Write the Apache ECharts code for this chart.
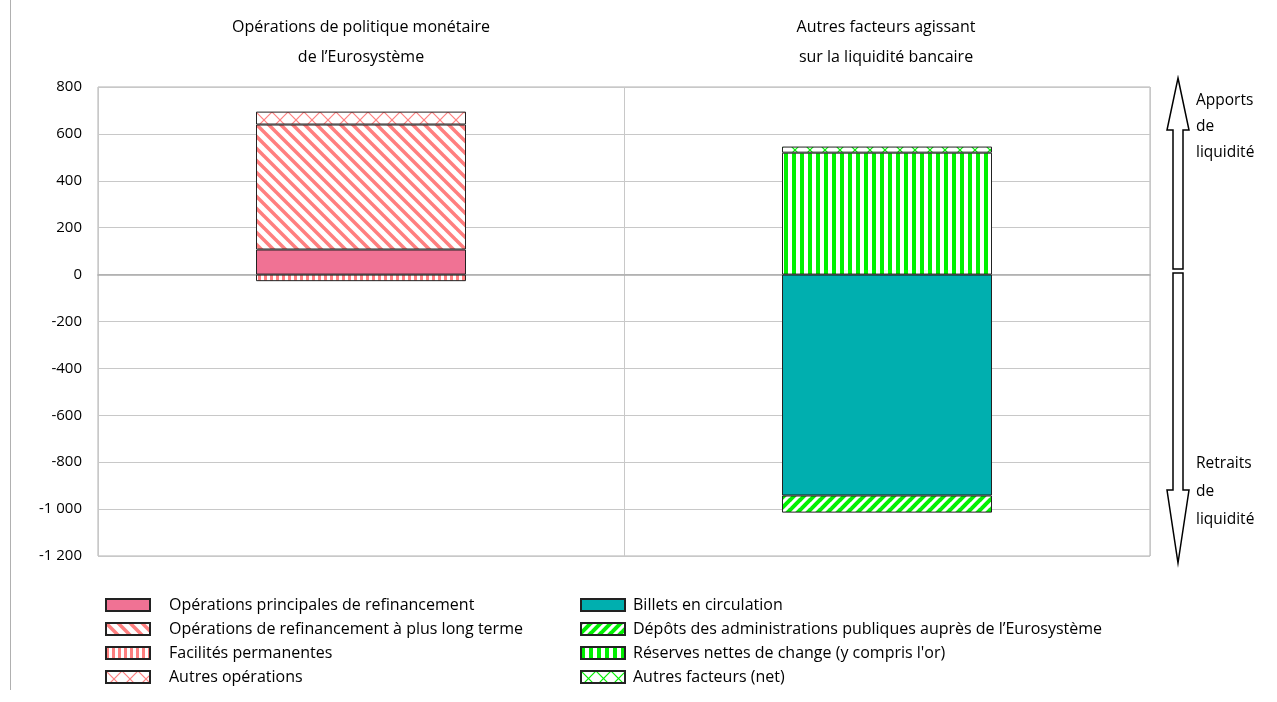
<!DOCTYPE html>
<html>
<head>
<meta charset="utf-8">
<script src="https://cdn.jsdelivr.net/npm/echarts@6/dist/echarts.min.js"></script>
<style>
  html, body { margin: 0; padding: 0; background: #fff; }
  #chart { width: 1277px; height: 702px; }
</style>
</head>
<body>
<div id="chart"></div>
<script>
// groupes (catégories de l'axe x)
const categories = ['Opérations de politique monétaire de l\u2019Eurosystème', 'Autres facteurs agissant sur la liquidité bancaire'];
const yTicks = [-1200, -1000, -800, -600, -400, -200, 0, 200, 400, 600, 800];

// Opérations de politique monétaire (1er groupe)
const opPrincipales = [107, '-'];
const opLongTerme = [533, '-'];
const facilites = [-28, '-'];
const autresOperations = [55, '-'];

// Autres facteurs (2e groupe)
const billets = ['-', -942];
const depots = ['-', -73];
const reserves = ['-', 520];
const autresFacteurs = ['-', 26];

const FONT = '"Open Sans", Lato, sans-serif';
const SALMON = '#ff7f7f';
const GREEN = '#00f000';

// petits motifs (hachures) dessinés sur canvas
function makePattern(kind, color, size, lw) {
  const c = document.createElement('canvas');
  c.width = size; c.height = size;
  const g = c.getContext('2d');
  g.fillStyle = '#fff';
  g.fillRect(0, 0, size, size);
  g.strokeStyle = color;
  g.lineWidth = lw;
  if (kind === 'back') {
    for (let k = -1; k <= 1; k++) {
      g.beginPath(); g.moveTo(-1, k * size - 1); g.lineTo(size + 1, size + k * size + 1); g.stroke();
    }
  } else if (kind === 'fwd') {
    for (let k = 0; k <= 2; k++) {
      g.beginPath(); g.moveTo(-1, k * size + 1); g.lineTo(size + 1, k * size - size - 1); g.stroke();
    }
  } else if (kind === 'vert') {
    g.fillStyle = color;
    g.fillRect(0, 0, lw, size);
  } else if (kind === 'cross') {
    for (let k = -1; k <= 1; k++) {
      g.beginPath(); g.moveTo(-1, k * size - 1); g.lineTo(size + 1, size + k * size + 1); g.stroke();
    }
    for (let k = 0; k <= 2; k++) {
      g.beginPath(); g.moveTo(-1, k * size + 1); g.lineTo(size + 1, k * size - size - 1); g.stroke();
    }
  }
  return { image: c, repeat: 'repeat' };
}

const chart = echarts.init(document.getElementById('chart'));

function barSeries(name, data, color) {
  return {
    name: name,
    type: 'bar',
    stack: 'total',
    data: data,
    barWidth: 210,
    itemStyle: { color: color, borderColor: '#222', borderWidth: 1 }
  };
}

const series = [
  barSeries('Opérations principales de refinancement', opPrincipales, '#f07294'),
  barSeries('Opérations de refinancement à plus long terme', opLongTerme, makePattern('back', SALMON, 12, 3.5)),
  barSeries('Facilités permanentes', facilites, makePattern('vert', SALMON, 6, 3)),
  barSeries('Autres opérations', autresOperations, makePattern('cross', SALMON, 16, 1.2)),
  barSeries('Billets en circulation', billets, '#00afaf'),
  barSeries('Dépôts des administrations publiques auprès de l\u2019Eurosystème', depots, makePattern('fwd', GREEN, 10, 4)),
  barSeries('Réserves nettes de change (y compris l\'or)', reserves, makePattern('vert', GREEN, 8, 4)),
  barSeries('Autres facteurs (net)', autresFacteurs, makePattern('cross', GREEN, 15, 1.2))
];

const legendBase = {
  orient: 'vertical',
  padding: 0,
  height: 110,
  itemWidth: 44,
  itemHeight: 12,
  itemGap: 8,
  icon: 'rect',
  selectedMode: false
};
const legendText = pad => ({ fontFamily: FONT, fontSize: 16, color: '#000', padding: [0, 0, 0, pad] });

function arrow(up, yTop, yBot, headLen) {
  const cx = 1178, hw = 11, sw = 5;
  let pts;
  if (up) {
    pts = [[cx, yTop], [cx + hw, yTop + headLen], [cx + sw, yTop + headLen], [cx + sw, yBot],
           [cx - sw, yBot], [cx - sw, yTop + headLen], [cx - hw, yTop + headLen]];
  } else {
    pts = [[cx, yBot], [cx + hw, yBot - headLen], [cx + sw, yBot - headLen], [cx + sw, yTop],
           [cx - sw, yTop], [cx - sw, yBot - headLen], [cx - hw, yBot - headLen]];
  }
  return { type: 'polygon', shape: { points: pts }, style: { fill: '#fff', stroke: '#000', lineWidth: 1.5 } };
}

const sideText = (x, y, text, lh) => ({
  type: 'text', x: x, y: y,
  style: { text: text, fontFamily: FONT, fontSize: 15.5, fill: '#000', lineHeight: lh, align: 'left', verticalAlign: 'top' }
});

chart.setOption({
  animation: false,
  grid: { left: 98, right: 127, top: 87, bottom: 146, show: true, borderColor: '#b0b0b0', borderWidth: 1 },
  xAxis: {
    type: 'category',
    data: categories,
    axisLabel: { show: false },
    axisTick: { show: false },
    axisLine: { onZero: true, lineStyle: { color: '#aaa', width: 1.5 } },
    splitLine: { show: true, lineStyle: { color: '#c8c8c8' } }
  },
  yAxis: {
    type: 'value',
    min: yTicks[0],
    max: yTicks[yTicks.length - 1],
    interval: 200,
    axisLine: { show: false },
    axisTick: { show: false },
    splitLine: { lineStyle: { color: '#c8c8c8' } },
    axisLabel: {
      margin: 16,
      fontFamily: FONT, fontSize: 15, color: '#000',
      formatter: v => {
        const s = Math.abs(v).toString().replace(/\B(?=(\d{3})+(?!\d))/g, '\u00a0');
        return (v < 0 ? '-' : '') + s;
      }
    }
  },
  legend: [
    Object.assign({}, legendBase, { left: 105, top: 597, textStyle: legendText(14), data: series.slice(0, 4).map(s => s.name) }),
    Object.assign({}, legendBase, { left: 580, top: 597, textStyle: legendText(3), data: series.slice(4).map(s => s.name) })
  ],
  graphic: [
    { type: 'line', shape: { x1: 10.5, y1: 0, x2: 10.5, y2: 690 }, style: { stroke: '#b0b0b0', lineWidth: 1 } },
    { type: 'text', x: 361, y: 12, style: { text: 'Opérations de politique monétaire\nde l\u2019Eurosystème', fontFamily: FONT, fontSize: 16, fill: '#000', align: 'center', lineHeight: 30 } },
    { type: 'text', x: 886, y: 12, style: { text: 'Autres facteurs agissant\nsur la liquidité bancaire', fontFamily: FONT, fontSize: 16, fill: '#000', align: 'center', lineHeight: 30 } },
    arrow(true, 78, 269, 52),
    arrow(false, 273, 563, 73),
    sideText(1196, 88, 'Apports\nde\nliquidité', 26),
    sideText(1196, 450, 'Retraits\nde\nliquidité', 28)
  ],
  series: series
});
</script>
</body>
</html>
